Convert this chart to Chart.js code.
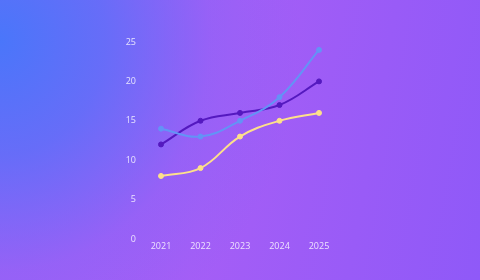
<!DOCTYPE html>
<html>
<head>
<meta charset="utf-8">
<script src="https://cdn.jsdelivr.net/npm/chart.js@4.4.1/dist/chart.umd.min.js"></script>
<style>
  html, body { margin: 0; padding: 0; width: 480px; height: 280px; overflow: hidden; }
  body {
    background:
      radial-gradient(ellipse 300px 330px at 0px 40px, rgba(74,118,250,1) 0%, rgba(88,112,249,0.8) 35%, rgba(125,102,248,0.35) 70%, rgba(160,96,246,0) 100%),
      linear-gradient(100deg, #a160f5 0%, #a55ef6 45%, #995bf7 75%, #8f59f8 100%);
  }
  #wrap { position: absolute; left: 0; top: 0; width: 480px; height: 280px; }
</style>
</head>
<body>
<div id="wrap"><canvas id="c" width="480" height="280"></canvas></div>
<script>
const years = ['2021', '2022', '2023', '2024', '2025'];
const seriesBlue = [14, 13, 15, 18, 24];
const seriesPurple = [12, 15, 16, 17, 20];
const seriesYellow = [8, 9, 13, 15, 16];
const yTicks = [0, 5, 10, 15, 20, 25];

const tickColor = 'rgba(255,255,255,0.82)';
const font = { family: '"Open Sans", "Noto Sans", sans-serif', size: 9 };

function ds(data, color) {
  return {
    data: data,
    borderColor: color,
    backgroundColor: color,
    pointBackgroundColor: color,
    pointBorderColor: color,
    pointRadius: 2.5,
    pointBorderWidth: 1,
    borderWidth: 2,
    tension: 0.4,
    fill: false
  };
}

new Chart(document.getElementById('c'), {
  type: 'line',
  data: {
    labels: years,
    datasets: [
      ds(seriesBlue, '#6393f6'),
      ds(seriesPurple, '#5419bf'),
      ds(seriesYellow, '#fde08a')
    ]
  },
  options: {
    responsive: false,
    animation: false,
    devicePixelRatio: 1,
    layout: { padding: { left: 120, right: 161, top: 42, bottom: 27 } },
    plugins: { legend: { display: false }, tooltip: { enabled: false } },
    scales: {
      x: {
        offset: false,
        grid: { display: false, drawTicks: false },
        border: { display: false },
        ticks: { color: tickColor, font: font, padding: 2, maxRotation: 0 },
        afterFit: (a) => { a.height = 14; }
      },
      y: {
        min: 0,
        max: 25,
        afterBuildTicks: (a) => { a.ticks = yTicks.map(v => ({ value: v })); },
        grid: { display: false, drawTicks: false },
        border: { display: false },
        ticks: { color: tickColor, font: font, padding: 25 },
        afterFit: (a) => { a.width = 41; }
      }
    }
  }
});
</script>
</body>
</html>
